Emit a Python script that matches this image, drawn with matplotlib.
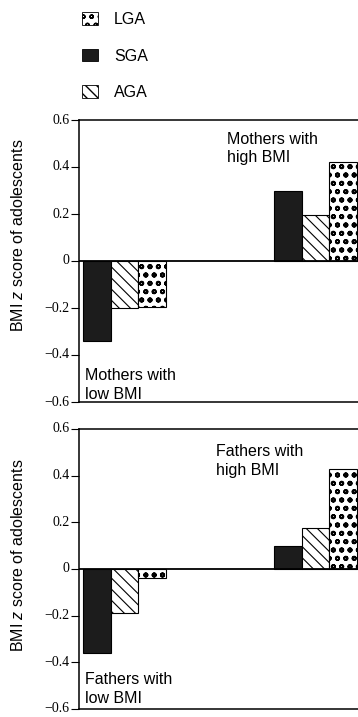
import numpy as np
import matplotlib
matplotlib.use('Agg')
import matplotlib.pyplot as plt
from matplotlib.patches import Patch

plt.rcParams['font.family'] = ['Liberation Sans', 'DejaVu Sans']
plt.rcParams['mathtext.fontset'] = 'custom'
plt.rcParams['mathtext.it'] = 'Liberation Sans:italic'
plt.rcParams['mathtext.rm'] = 'Liberation Sans'

# data
groups = ['low BMI', 'high BMI']
series = ['SGA', 'AGA', 'LGA']
mothers_sga = [-0.34, 0.30]
mothers_aga = [-0.20, 0.195]
mothers_lga = [-0.195, 0.42]
fathers_sga = [-0.36, 0.10]
fathers_aga = [-0.19, 0.175]
fathers_lga = [-0.037, 0.43]
yticks = [-0.6, -0.4, -0.2, 0, 0.2, 0.4, 0.6]
ytick_labels = ['\u22120.6', '\u22120.4', '\u22120.2', '0', '0.2', '0.4', '0.6']

styles = {
    'SGA': dict(facecolor='#1c1c1c', hatch=None, hlw=0.8),
    'AGA': dict(facecolor='white', hatch='\\\\\\', hlw=0.8),
    'LGA': dict(facecolor='white', hatch='oo', hlw=1.3),
}

fig = plt.figure(figsize=(3.58, 7.17), dpi=100)
ax1 = fig.add_axes([79/358, 1-402/717, 279/358, 282/717])
ax2 = fig.add_axes([79/358, 1-709/717, 279/358, 280/717])

w = 0.145
x = np.arange(len(groups))


def draw(ax, sga, aga, lga, lab_low, low_y, lab_high, high_pos, ylab_y):
    for i, (name, vals) in enumerate(zip(series, [sga, aga, lga])):
        st = styles[name]
        with plt.rc_context({'hatch.linewidth': st['hlw']}):
            ax.bar(x + (i - 1) * w, vals, w, facecolor=st['facecolor'],
                   hatch=st['hatch'], edgecolor='black', linewidth=0.8)
    ax.axhline(0, color='black', lw=1.3)
    ax.set_xlim(-0.238, 1.2225)
    ax.set_ylim(-0.6, 0.6)
    ax.set_yticks(yticks)
    ax.set_yticklabels(ytick_labels, family='Liberation Serif', fontsize=10)
    for t in ax.get_yticklabels():
        t.set_verticalalignment('center')
    ax.set_xticks([])
    ax.tick_params(axis='y', direction='out', length=6, width=0.8, pad=1)
    ax.spines['right'].set_visible(False)
    for s in ['left', 'top', 'bottom']:
        ax.spines[s].set_linewidth(1.1)
    ax.text(0.02, low_y, lab_low, transform=ax.transAxes, fontsize=11.5,
            ha='left', va='bottom', linespacing=1.3)
    ax.text(high_pos[0], high_pos[1], lab_high, transform=ax.transAxes,
            fontsize=11.5, ha='left', va='top', linespacing=1.3)
    ax.text(-0.22, ylab_y, 'BMI $z$ score of adolescents', transform=ax.transAxes,
            rotation=90, ha='center', va='center', fontsize=11.5)


draw(ax1, mothers_sga, mothers_aga, mothers_lga,
     'Mothers with\nlow BMI', 0.0, 'Mothers with\nhigh BMI', (0.53, 0.958), 0.59)
draw(ax2, fathers_sga, fathers_aga, fathers_lga,
     'Fathers with\nlow BMI', 0.012, 'Fathers with\nhigh BMI', (0.49, 0.945), 0.55)

handles = []
for n in ['LGA', 'SGA', 'AGA']:
    with plt.rc_context({'hatch.linewidth': styles[n]['hlw']}):
        handles.append(Patch(facecolor=styles[n]['facecolor'], hatch=styles[n]['hatch'],
                             edgecolor='black', linewidth=0.6))
fig.legend(handles, ['LGA', 'SGA', 'AGA'], loc='upper left',
           bbox_to_anchor=(82/358, 1-12/717), frameon=False, fontsize=11.5,
           handlelength=1.0, handleheight=0.8, handletextpad=1.0,
           labelspacing=1.35, borderpad=0, borderaxespad=0)

fig.savefig('out.png', dpi=100)
